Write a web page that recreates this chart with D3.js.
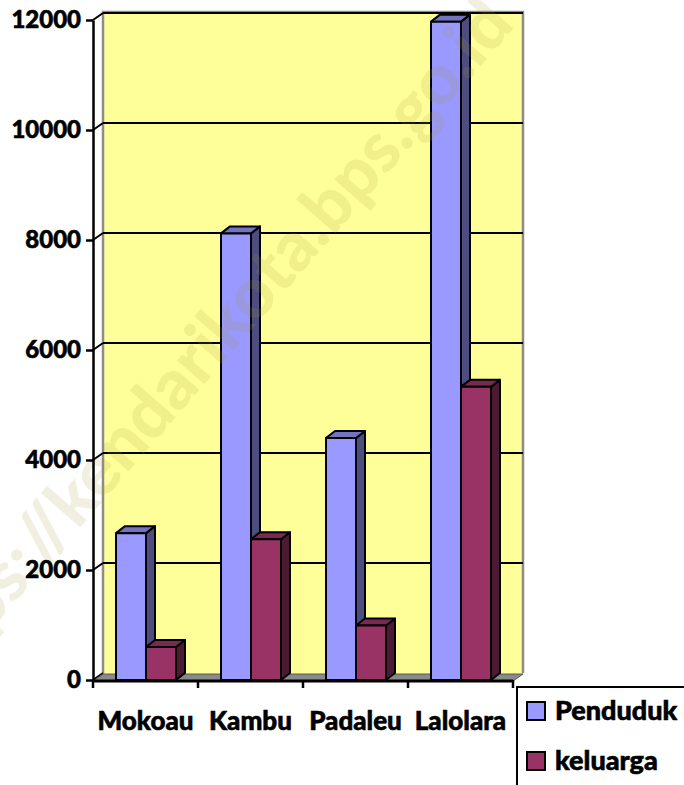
<!DOCTYPE html>
<html>
<head>
<meta charset="utf-8">
<script src="https://cdn.jsdelivr.net/npm/d3@7"></script>
<style>
  body { margin: 0; background: #fff; }
  svg text { font-family: Lato, "Open Sans", sans-serif; font-weight: 900; }
  svg text.lbl { stroke: #000; stroke-width: 0.6px; }
</style>
</head>
<body>
<div class="chart"></div>
<script>
// data
const categories = ['Mokoau', 'Kambu', 'Padaleu', 'Lalolara'];
const seriesNames = ['Penduduk', 'keluarga'];
const penduduk = [2670, 8120, 4400, 11970];
const keluarga = [600, 2560, 990, 5330];
const yTicks = [0, 2000, 4000, 6000, 8000, 10000, 12000];

const W = 684, H = 785;
const dx = 10, dy = -7;      // depth of the 3d walls
const bdx = 9, bdy = -7;     // depth of the bars

const colors = {
  Penduduk: { front: '#9999FF', top: '#7373C0', side: '#4D4D80' },
  keluarga: { front: '#993366', top: '#7A2952', side: '#4D1A33' }
};

const svg = d3.select('.chart').append('svg')
  .attr('width', W)
  .attr('height', H);

const x0 = d3.scaleBand().domain(categories).range([93, 513]);
const x1 = d3.scaleBand().domain(seriesNames).range([23, 83]);
const y = d3.scaleLinear().domain([0, 12000]).range([680, 20]);

const left = x0.range()[0], right = x0.range()[1];
const y0 = y(0), yTop = y(12000);

// back wall
svg.append('rect')
  .attr('x', left + dx).attr('y', yTop + dy - 1)
  .attr('width', right - left).attr('height', y0 - yTop + 1)
  .attr('fill', '#FFFF99');
svg.append('path')
  .attr('d', `M${left + dx},${y0 + dy}V${yTop + dy - 1}H${right + dx}V${y0 + dy}`)
  .attr('fill', 'none').attr('stroke', '#8c8c8c').attr('stroke-width', 2.5);

// grid lines on the wall, with the short diagonals to the axis
const grid = svg.append('g');
grid.selectAll('line.g')
  .data(yTicks.filter(d => d > 0))
  .enter().append('line')
  .attr('x1', left + dx).attr('x2', right + dx)
  .attr('y1', d => y(d) + dy).attr('y2', d => y(d) + dy)
  .attr('stroke', '#000').attr('stroke-width', 2);
grid.selectAll('line.d')
  .data(yTicks)
  .enter().append('line')
  .attr('x1', left).attr('x2', left + dx)
  .attr('y1', d => y(d)).attr('y2', d => y(d) + dy)
  .attr('stroke', '#000').attr('stroke-width', 2);

// floor
svg.append('path')
  .attr('d', `M${left},${y0 + 1}L${left + dx},${y0 + 1 + dy}H${right + dx}L${right},${y0 + 1}Z`)
  .attr('fill', '#8a8a8a').attr('stroke', '#555').attr('stroke-width', 1);

// bars
const rows = categories.map((c, i) => ({ cat: c, values: [penduduk[i], keluarga[i]] }));
const groups = svg.selectAll('g.cat')
  .data(rows)
  .enter().append('g')
  .attr('transform', d => `translate(${x0(d.cat)},0)`);

const bars = groups.selectAll('g.bar')
  .data(d => seriesNames.map((s, j) => ({ s: s, v: d.values[j] })))
  .enter().append('g');

const bw = x1.bandwidth();
bars.append('path') // side
  .attr('d', d => `M${x1(d.s) + bw},${y(d.v)}l${bdx},${bdy}V${y0 + bdy}l${-bdx},${-bdy}Z`)
  .attr('fill', d => colors[d.s].side);
bars.append('path') // top
  .attr('d', d => `M${x1(d.s)},${y(d.v)}l${bdx},${bdy}h${bw}l${-bdx},${-bdy}Z`)
  .attr('fill', d => colors[d.s].top);
bars.append('rect') // front
  .attr('x', d => x1(d.s)).attr('y', d => y(d.v))
  .attr('width', bw).attr('height', d => y0 - y(d.v))
  .attr('fill', d => colors[d.s].front);
bars.selectAll('path, rect')
  .attr('stroke', '#000').attr('stroke-width', 2).attr('stroke-linejoin', 'round');

// watermark (sits over the plot, half transparent)
svg.append('text')
  .text('https://kendarikota.bps.go.id')
  .attr('transform', 'translate(-72,702) rotate(-49)')
  .attr('font-size', 70)
  .attr('fill', '#a09a40')
  .attr('fill-opacity', 0.16);

// y axis
const yAxis = svg.append('g')
  .attr('transform', `translate(${left},0)`)
  .call(d3.axisLeft(y).tickValues(yTicks).tickFormat(d3.format('d'))
    .tickSize(7).tickPadding(5).tickSizeOuter(0));
yAxis.select('.domain').attr('stroke', '#000').attr('stroke-width', 2.5);
yAxis.selectAll('.tick line').attr('stroke', '#000').attr('stroke-width', 2.5);
yAxis.selectAll('.tick text')
  .attr('class', 'lbl')
  .attr('font-size', 24).attr('fill', '#000')
  .style('font-family', 'Lato, sans-serif').style('font-weight', 900);

// x axis line, boundary ticks and labels
svg.append('line')
  .attr('x1', left).attr('x2', right).attr('y1', y0 + 1).attr('y2', y0 + 1)
  .attr('stroke', '#000').attr('stroke-width', 3);
svg.selectAll('line.xt')
  .data(categories.concat(['end']))
  .enter().append('line')
  .attr('x1', (d, i) => left + i * x0.step()).attr('x2', (d, i) => left + i * x0.step())
  .attr('y1', y0).attr('y2', y0 + 8)
  .attr('stroke', '#000').attr('stroke-width', 2.5);
svg.selectAll('text.cat')
  .data(categories)
  .enter().append('text')
  .attr('class', 'lbl')
  .text(d => d)
  .attr('x', d => x0(d) + x0.bandwidth() / 2)
  .attr('y', 730)
  .attr('text-anchor', 'middle')
  .attr('font-size', 26);

// legend
const legend = svg.append('g');
legend.append('rect')
  .attr('x', 517).attr('y', 687).attr('width', 200).attr('height', 120)
  .attr('fill', '#fff').attr('stroke', '#000').attr('stroke-width', 2);
const li = legend.selectAll('g.item')
  .data(seriesNames)
  .enter().append('g')
  .attr('transform', (d, i) => `translate(527,${702 + i * 50})`);
li.append('rect')
  .attr('width', 18).attr('height', 18)
  .attr('fill', d => colors[d].front)
  .attr('stroke', '#000').attr('stroke-width', 2);
li.append('text')
  .attr('class', 'lbl')
  .text(d => d)
  .attr('x', 28).attr('y', 18)
  .attr('font-size', 27);
</script>
</body>
</html>
